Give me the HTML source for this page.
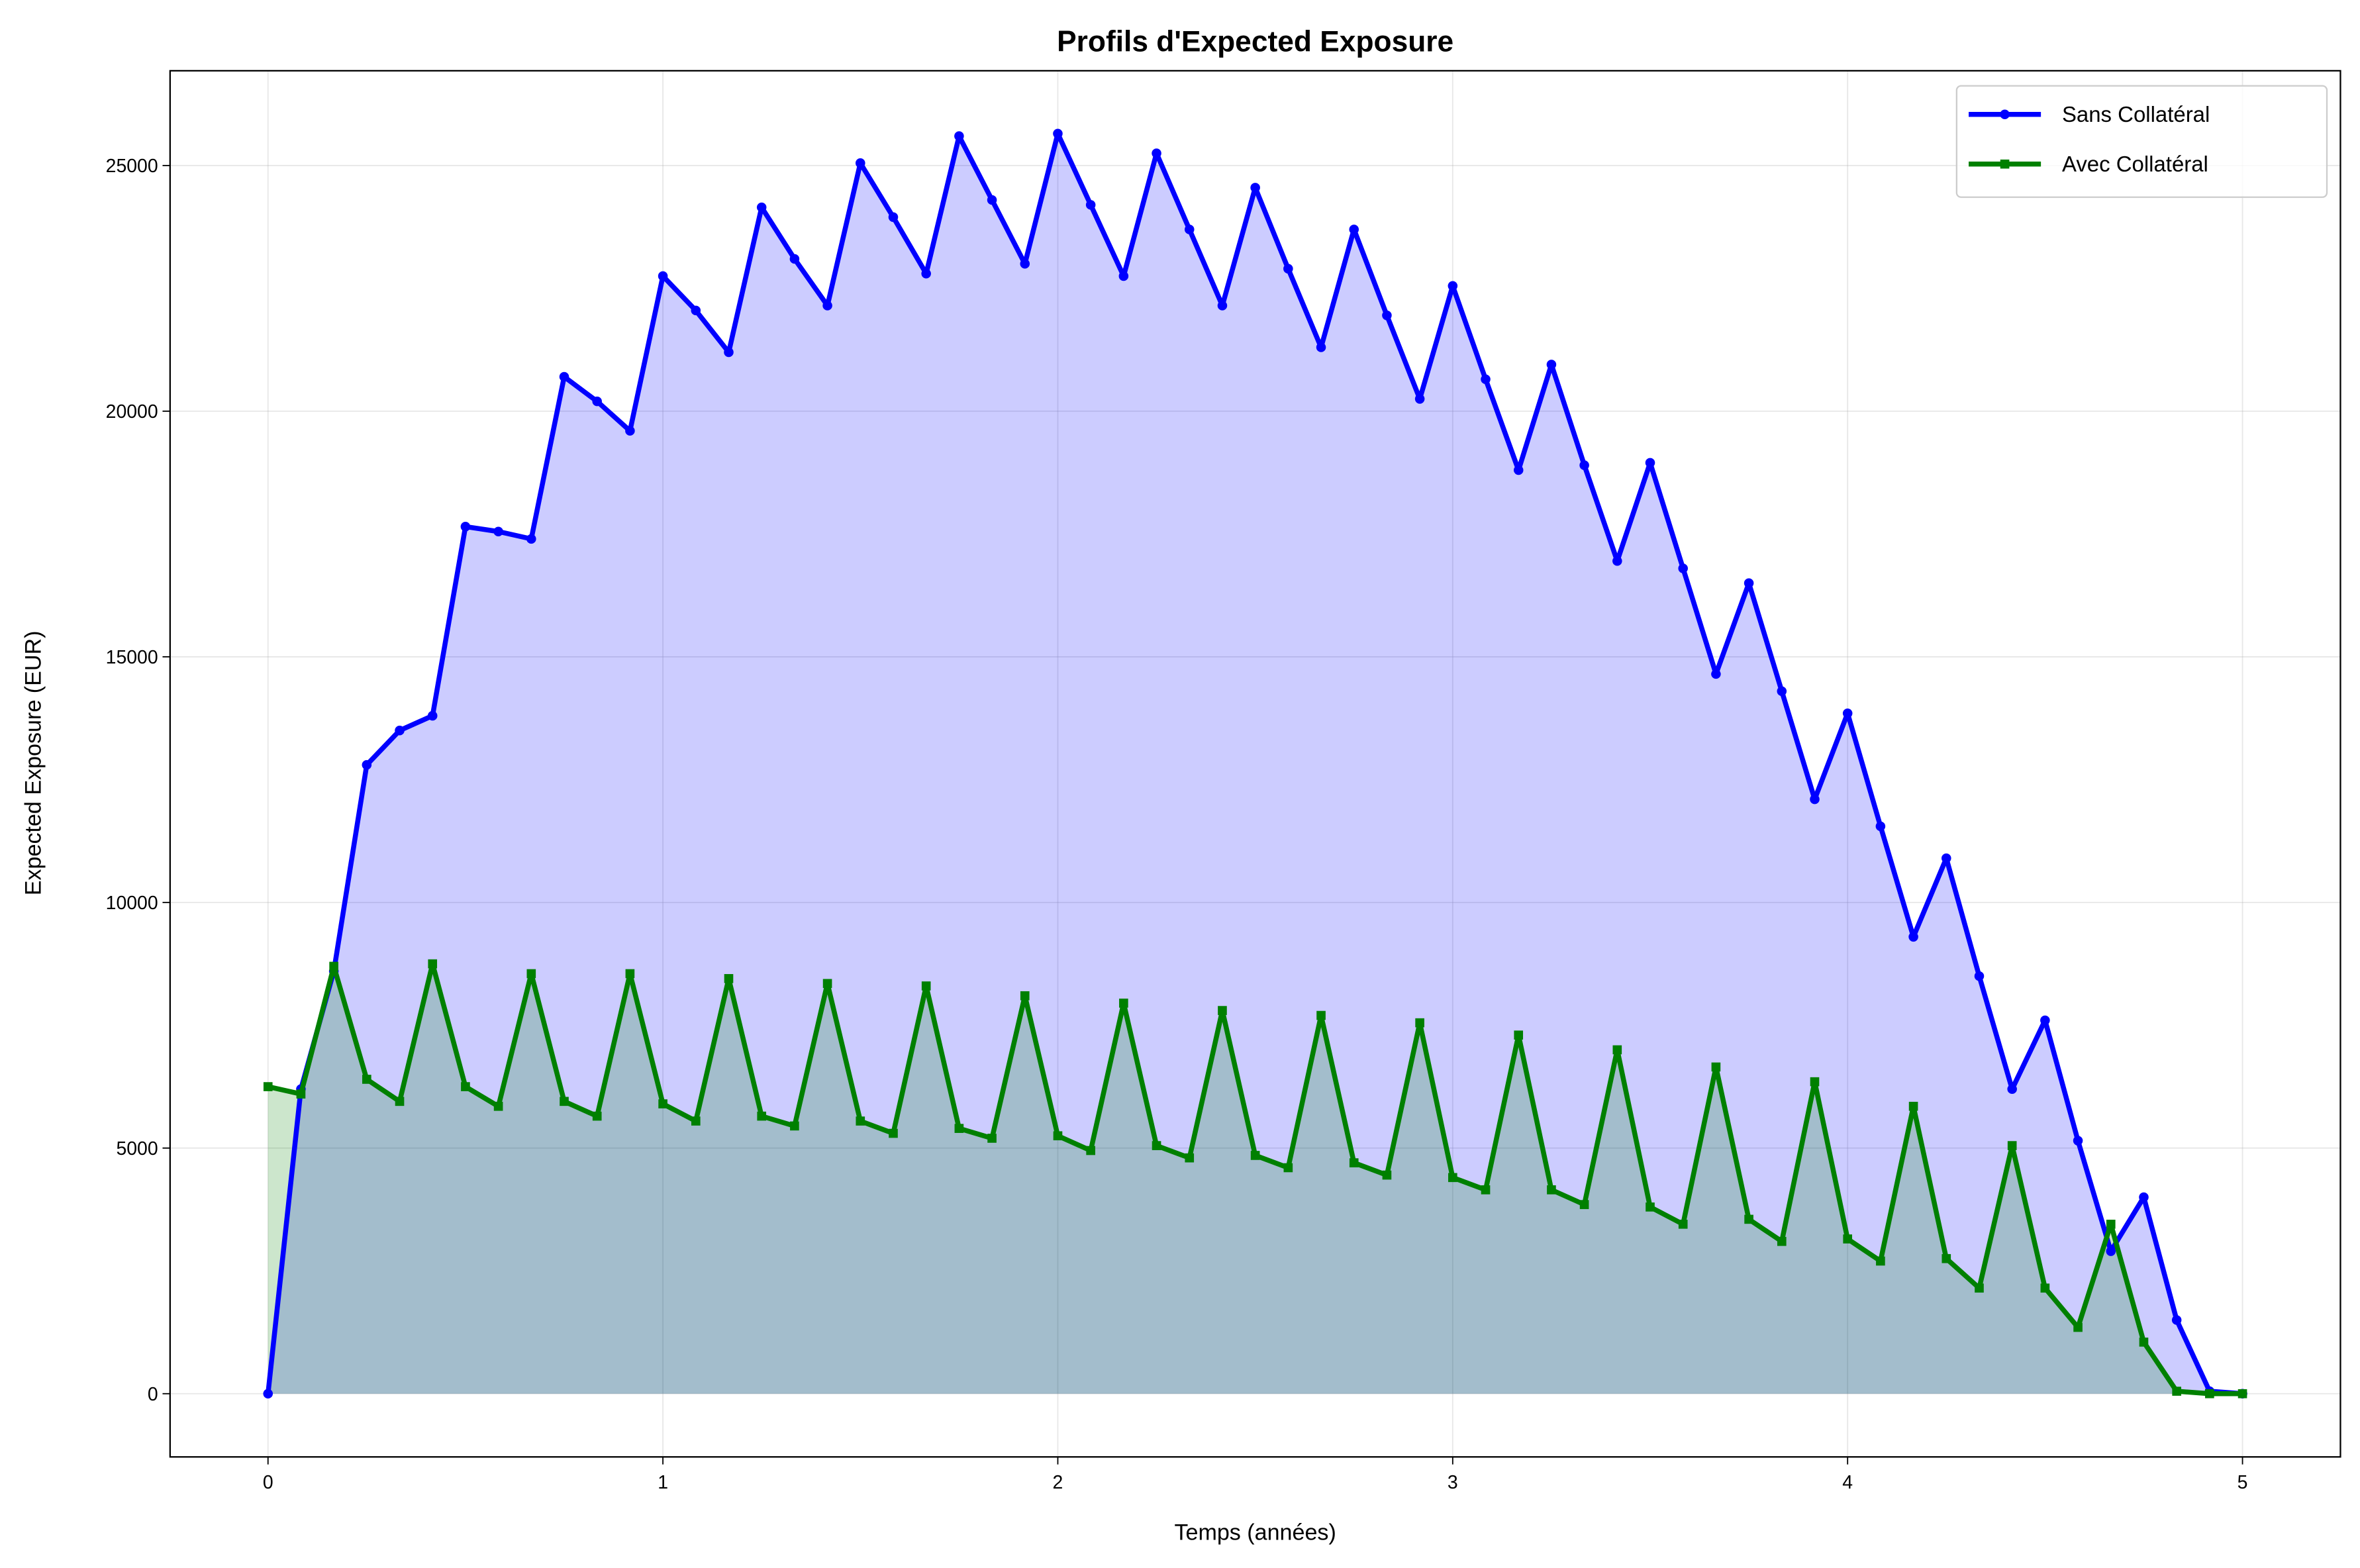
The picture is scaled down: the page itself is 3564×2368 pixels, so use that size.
<!DOCTYPE html>
<html><head><meta charset="utf-8"><style>
html,body{margin:0;padding:0;background:#fff}
svg{display:block;font-family:"Liberation Sans","DejaVu Sans",sans-serif}
</style></head><body>
<svg id="chart" width="3564" height="2368" viewBox="0 0 1568 1041.8" xmlns="http://www.w3.org/2000/svg">
<rect x="0" y="0" width="1568" height="1042" fill="#fff"/>
<g id="grid"></g>
<g id="fills"></g>
<g id="series"></g>
<rect x="113" y="47" width="1442" height="921" fill="none" stroke="#000" stroke-width="1"/>
<g id="ticks"></g>
<text x="834" y="34" text-anchor="middle" font-size="19.5" font-weight="bold">Profils d'Expected Exposure</text>
<text x="834" y="1023" text-anchor="middle" font-size="15">Temps (années)</text>
<text x="0" y="0" transform="translate(27,507) rotate(-90)" text-anchor="middle" font-size="15">Expected Exposure (EUR)</text>
<g>
<rect x="1300" y="57" width="246" height="74" rx="3" fill="#fff" fill-opacity="0.8" stroke="#ccc"/>
<g>
<line x1="1308" y1="76" x2="1356" y2="76" stroke="#0000ff" stroke-width="3.3"/>
<circle cx="1332" cy="76" r="3.2" fill="#0000ff"/>
<text x="1370" y="81" font-size="14.5">Sans Collatéral</text></g>
<g>
<line x1="1308" y1="109" x2="1356" y2="109" stroke="#008000" stroke-width="3.3"/>
<rect x="1329" y="106" width="6" height="6" fill="#008000"/>
<text x="1370" y="114" font-size="14.5">Avec Collatéral</text></g>
</g>
</svg>
<script>
const sansValues=[0,6200,8600,12800,13500,13800,17650,17550,17400,20700,20200,19600,22750,22050,21200,24150,23100,22150,25050,23950,22800,25600,24300,23000,25650,24200,22750,25250,23700,22150,24550,22900,21300,23700,21950,20250,22550,20650,18800,20950,18900,16950,18950,16800,14650,16500,14300,12100,13850,11550,9300,10900,8500,6200,7600,5150,2900,4000,1500,50,0];
const avecValues=[6250,6100,8700,6400,5950,8750,6250,5850,8550,5950,5650,8550,5900,5550,8450,5650,5450,8350,5550,5300,8300,5400,5200,8100,5250,4950,7950,5050,4800,7800,4850,4600,7700,4700,4450,7550,4400,4150,7300,4150,3850,7000,3800,3450,6650,3550,3100,6350,3150,2700,5850,2750,2150,5050,2150,1350,3450,1050,50,0,0];
const xTicks=[0,1,2,3,4,5];
const yTicks=[0,5000,10000,15000,20000,25000];
const NS='http://www.w3.org/2000/svg';
const X0=113,X1=1555,Y0=968,Y1=47;
const xMin=-0.248,xMax=5.248,yMin=-1287,yMax=26930;
const xs=v=>X0+(v-xMin)/(xMax-xMin)*(X1-X0);
const ys=v=>Y0-(v-yMin)/(yMax-yMin)*(Y0-Y1);
const tOf=i=>i/12;
function mk(tag,attrs,parent){const e=document.createElementNS(NS,tag);for(const k in attrs)e.setAttribute(k,attrs[k]);parent.appendChild(e);return e;}
const grid=document.getElementById('grid'),ticks=document.getElementById('ticks'),fills=document.getElementById('fills'),series=document.getElementById('series');
xTicks.forEach(t=>{
  const g=mk('line',{x1:xs(t),x2:xs(t),y1:Y1,y2:Y0,stroke:'#b0b0b0','stroke-opacity':0.3,'stroke-width':0.8},grid);
  
  
  const l=mk('line',{x1:xs(t),x2:xs(t),y1:Y0,y2:Y0+5,stroke:'#000','stroke-width':0.8},ticks);
  
  
  const tx=mk('text',{x:xs(t),y:Y0+21,'text-anchor':'middle','font-size':12.5},ticks);tx.textContent=t;
  
  
});
yTicks.forEach(t=>{
  const g=mk('line',{x1:X0,x2:X1,y1:ys(t),y2:ys(t),stroke:'#b0b0b0','stroke-opacity':0.3,'stroke-width':0.8},grid);
  
  
  const l=mk('line',{x1:X0-5,x2:X0,y1:ys(t),y2:ys(t),stroke:'#000','stroke-width':0.8},ticks);
  
  
  const tx=mk('text',{x:X0-8,y:ys(t)+4.5,'text-anchor':'end','font-size':12.5},ticks);tx.textContent=t;
  
  
});
function areaPath(vals){let d='M'+xs(0)+','+ys(0);vals.forEach((v,i)=>{d+=' L'+xs(tOf(i))+','+ys(v);});d+=' L'+xs(tOf(vals.length-1))+','+ys(0)+' Z';return d;}
function linePath(vals){return vals.map((v,i)=>(i?'L':'M')+xs(tOf(i))+','+ys(v)).join(' ');}
const fa=mk('path',{d:areaPath(sansValues),fill:'#0000ff','fill-opacity':0.2},fills);


const fb=mk('path',{d:areaPath(avecValues),fill:'#008000','fill-opacity':0.2},fills);


const la=mk('path',{d:linePath(sansValues),fill:'none',stroke:'#0000ff','stroke-width':3.3,'stroke-linejoin':'round'},series);


sansValues.forEach((v,i)=>{const c=mk('circle',{cx:xs(tOf(i)),cy:ys(v),r:3.2,fill:'#0000ff'},series);
  
  });
const lb=mk('path',{d:linePath(avecValues),fill:'none',stroke:'#008000','stroke-width':3.3,'stroke-linejoin':'round'},series);


avecValues.forEach((v,i)=>{const r=mk('rect',{x:xs(tOf(i))-3,y:ys(v)-3,width:6,height:6,fill:'#008000'},series);
  
  });
</script>
</body></html>
